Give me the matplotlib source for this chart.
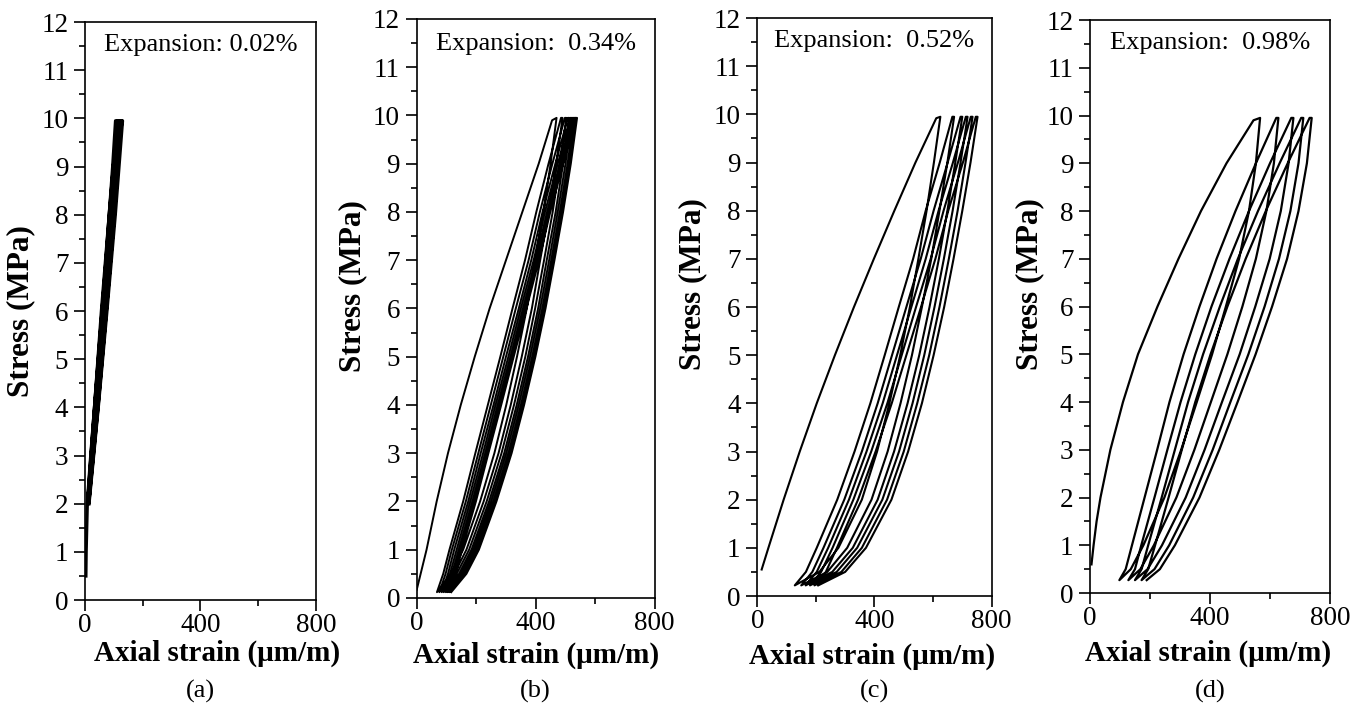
import matplotlib
matplotlib.use('Agg')
import matplotlib.pyplot as plt
from matplotlib.ticker import MultipleLocator, FixedLocator

plt.rcParams['font.family'] = ['Liberation Serif', 'DejaVu Serif']

# ---------------- panel labels ----------------
titles = ['Expansion: 0.02%', 'Expansion:  0.34%', 'Expansion:  0.52%', 'Expansion:  0.98%']
letters = ['(a)', '(b)', '(c)', '(d)']
x_ticks = [0, 400, 800]
x_minor = [200, 600]

# ---------------- panel (a): expansion 0.02% ----------------
a_load_stress = [0.5, 1, 2, 3, 4, 5, 6, 7, 8, 9, 9.95]
a_load_strain = [3, 4, 8, 20, 33, 46, 59, 72, 84, 96, 106]
a_unload_stress = [9.95, 8, 6, 4, 2]
a_unload_strain = [[110, 89, 64, 38, 9],
                   [114, 92, 66, 40, 10],
                   [118, 95, 69, 41, 11],
                   [122, 99, 71, 43, 12],
                   [126, 102, 74, 45, 13],
                   [130, 105, 76, 46, 14]]
a_reload_stress = [2, 4, 6, 8, 9.95]
a_reload_strain = [[9, 33, 57, 84, 112],
                   [10, 34, 60, 86, 116],
                   [11, 36, 62, 89, 120],
                   [12, 37, 64, 92, 124],
                   [13, 38, 66, 94, 128]]

# ---------------- panel (b): expansion 0.34% ----------------
b_load_stress = [0.17, 1, 2, 3, 4, 5, 6, 7, 8, 9, 9.9]
b_load_strain = [0, 33, 67, 105, 148, 195, 245, 300, 355, 410, 455]
b_unload_stress = [9.95, 9, 8, 7, 6, 5, 4, 3, 2, 1, 0.5, 0.12]
b_unload_strain = [[470, 450, 426, 398, 370, 337, 301, 261, 213, 156, 116, 68],
                   [490, 469, 444, 415, 387, 353, 316, 275, 225, 167, 126, 76],
                   [503, 482, 457, 428, 398, 365, 327, 285, 235, 176, 134, 84],
                   [513, 492, 467, 437, 408, 374, 336, 294, 243, 184, 142, 91],
                   [521, 500, 474, 445, 415, 381, 343, 301, 250, 191, 149, 98],
                   [528, 507, 481, 452, 422, 388, 350, 308, 257, 197, 155, 104],
                   [534, 513, 487, 458, 428, 394, 356, 314, 263, 203, 161, 110],
                   [539, 518, 492, 463, 433, 399, 361, 319, 268, 209, 167, 116]]
b_reload_stress = [0.12, 0.5, 1, 2, 3, 4, 5, 6, 7, 8, 9, 9.95]
b_reload_strain = [[68, 89, 110, 156, 197, 239, 281, 322, 364, 402, 443, 485],
                   [76, 97, 118, 165, 207, 249, 291, 333, 376, 414, 456, 498],
                   [84, 105, 126, 173, 215, 258, 300, 343, 385, 423, 466, 508],
                   [91, 112, 134, 180, 223, 265, 308, 350, 393, 431, 474, 516],
                   [98, 119, 141, 187, 230, 272, 315, 357, 400, 438, 481, 523],
                   [104, 125, 147, 193, 236, 278, 321, 363, 406, 444, 487, 529],
                   [110, 131, 152, 199, 241, 284, 326, 369, 411, 449, 492, 534]]

# ---------------- panel (c): expansion 0.52% ----------------
c_load_stress = [0.55, 1, 2, 3, 4, 5, 6, 7, 8, 9, 9.92]
c_load_strain = [15, 38, 90, 145, 203, 265, 330, 398, 468, 540, 611]
c_unload_stress = [9.95, 9, 8, 7, 6, 5, 4, 3, 2, 1, 0.5, 0.22]
c_unload_strain = [[625, 603, 578, 550, 521, 488, 451, 409, 357, 277, 212, 128],
                   [672, 649, 622, 594, 562, 528, 489, 445, 390, 307, 239, 150],
                   [700, 676, 649, 620, 588, 553, 513, 467, 411, 326, 256, 165],
                   [718, 694, 667, 637, 605, 570, 530, 484, 427, 341, 271, 180],
                   [735, 711, 684, 654, 622, 587, 546, 500, 443, 357, 287, 195],
                   [752, 728, 700, 670, 638, 602, 562, 515, 458, 371, 300, 208]]
c_reload_stress = [0.22, 0.5, 1, 2, 3, 4, 5, 6, 7, 8, 9, 9.95]
c_reload_strain = [[128, 166, 203, 273, 332, 386, 435, 483, 532, 575, 623, 666],
                   [150, 188, 226, 297, 357, 411, 460, 509, 558, 602, 650, 694],
                   [165, 203, 242, 313, 373, 428, 477, 526, 575, 619, 668, 712],
                   [180, 218, 257, 328, 389, 444, 493, 542, 592, 636, 685, 729],
                   [195, 234, 272, 344, 404, 459, 509, 559, 608, 652, 702, 746]]

# ---------------- panel (d): expansion 0.98% ----------------
d_load_stress = [0.6, 1, 1.5, 2, 3, 4, 5, 6, 7, 8, 9, 9.9]
d_load_strain = [5, 12, 22, 35, 68, 110, 160, 225, 295, 370, 455, 545]
d_unload_stress = [9.95, 9, 8, 7, 6, 5, 4, 3, 2, 1, 0.5, 0.27]
d_unload_strain = [[567, 553, 530, 497, 453, 407, 356, 304, 248, 178, 136, 98],
                   [628, 613, 588, 553, 508, 458, 403, 348, 288, 213, 168, 128],
                   [678, 662, 636, 599, 551, 499, 440, 382, 319, 240, 192, 150],
                   [711, 695, 668, 630, 582, 528, 468, 409, 344, 264, 215, 172],
                   [739, 723, 695, 657, 607, 552, 492, 431, 365, 283, 233, 189]]
d_reload_stress = [0.27, 0.5, 1, 2, 3, 4, 5, 6, 7, 8, 9, 9.95]
d_reload_strain = [[98, 119, 140, 182, 224, 265, 312, 365, 422, 485, 553, 621],
                   [128, 150, 171, 215, 258, 302, 351, 405, 465, 530, 600, 671],
                   [150, 172, 194, 239, 283, 327, 377, 433, 493, 560, 632, 704],
                   [172, 194, 217, 262, 306, 351, 402, 458, 519, 586, 659, 732]]

panels = [
    (a_load_strain, a_load_stress, a_unload_strain, a_unload_stress, a_reload_strain, a_reload_stress),
    (b_load_strain, b_load_stress, b_unload_strain, b_unload_stress, b_reload_strain, b_reload_stress),
    (c_load_strain, c_load_stress, c_unload_strain, c_unload_stress, c_reload_strain, c_reload_stress),
    (d_load_strain, d_load_stress, d_unload_strain, d_unload_stress, d_reload_strain, d_reload_stress),
]

# axes rectangles (left, bottom, width, height) in figure fraction
rects = [(0.0628, 0.1513, 0.1707, 0.8175),
         (0.3080, 0.1542, 0.1759, 0.8190),
         (0.5597, 0.1570, 0.1732, 0.8175),
         (0.8056, 0.1612, 0.1774, 0.8105)]
line_widths = [2.4, 1.4, 1.5, 1.6]
ylabel_pos = [(-0.216, 0.50), (-0.210, 0.539), (-0.214, 0.539), (-0.19, 0.539)]
xlabel_pos = [(0.571, -0.068), (0.50, -0.076), (0.49, -0.081), (0.49, -0.082)]
title_px = [45, 44, 41, 43]

fig = plt.figure(figsize=(13.53, 7.07), dpi=100)
fig.patch.set_facecolor('white')

for i, (rect, data) in enumerate(zip(rects, panels)):
    ax = fig.add_axes(rect)
    ls, lst, us, ust, rs, rst = data
    xs = list(ls)
    ys = list(lst)
    for k in range(len(us)):
        xs += us[k]
        ys += ust
        if k < len(rs):
            xs += rs[k]
            ys += rst
    ax.plot(xs, ys, color='black', lw=line_widths[i], solid_joinstyle='round')

    ax.set_xlim(0, 800)
    ax.set_ylim(0, 12)
    ax.xaxis.set_major_locator(FixedLocator(x_ticks))
    ax.xaxis.set_minor_locator(FixedLocator(x_minor))
    ax.yaxis.set_major_locator(MultipleLocator(1))
    ax.yaxis.set_minor_locator(MultipleLocator(0.5))
    ax.tick_params(which='both', direction='out', top=False, right=False,
                   width=1.2, labelsize=19.5, colors='black')
    ax.tick_params(which='major', length=8)
    ax.tick_params(which='minor', length=4)
    ax.tick_params(axis='y', which='major', pad=4)
    ax.tick_params(axis='x', which='major', pad=1.5)
    for sp in ax.spines.values():
        sp.set_linewidth(1.2)
        sp.set_color('black')

    fig.text(rect[0] + rect[2] * 0.5, 1 - title_px[i] / 707, titles[i],
             ha='center', va='center', fontsize=19)
    ax.set_xlabel('Axial strain (\u03bcm/m)', fontsize=21, fontweight='bold')
    ax.xaxis.set_label_coords(*xlabel_pos[i])
    ax.set_ylabel('Stress (MPa)', fontsize=22.5, fontweight='bold')
    ax.yaxis.set_label_coords(*ylabel_pos[i])

    cx = rect[0] + rect[2] / 2
    fig.text(cx, 1 - 691 / 707, letters[i], ha='center', va='center', fontsize=19)

fig.savefig('out.png', dpi=100, facecolor='white')
